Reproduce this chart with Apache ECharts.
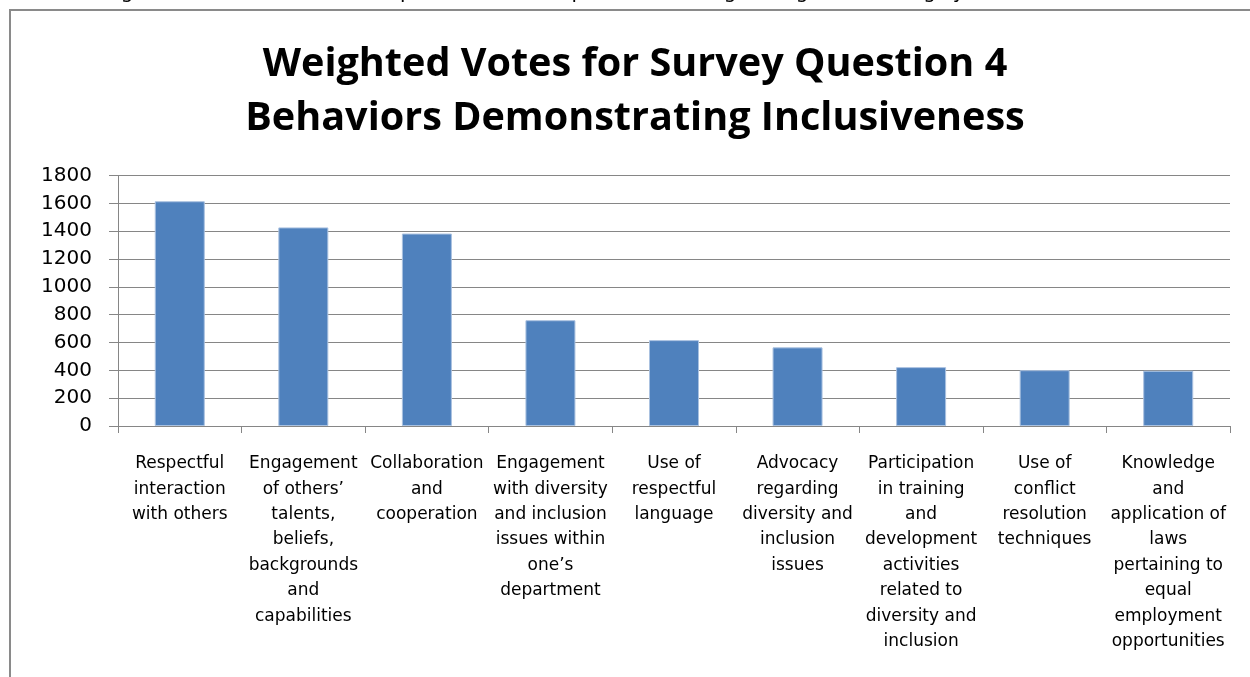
<!DOCTYPE html>
<html><head><meta charset="utf-8">
<script src="https://cdn.jsdelivr.net/npm/echarts@6/dist/echarts.min.js"></script>
<style>html,body{margin:0;padding:0;background:#fff}#c{width:1250px;height:677px}</style>
</head><body><div id="c"></div>
<script>
const titleLines = ['Weighted Votes for Survey Question 4', 'Behaviors Demonstrating Inclusiveness'];
const introText = 'The following chart and table show complete results for question 4, using a weighted ranking system';
const categories = [
  'Respectful\ninteraction\nwith others',
  'Engagement\nof others\u2019\ntalents,\nbeliefs,\nbackgrounds\nand\ncapabilities',
  'Collaboration\nand\ncooperation',
  'Engagement\nwith diversity\nand inclusion\nissues within\none\u2019s\ndepartment',
  'Use of\nrespectful\nlanguage',
  'Advocacy\nregarding\ndiversity and\ninclusion\nissues',
  'Participation\nin training\nand\ndevelopment\nactivities\nrelated to\ndiversity and\ninclusion',
  'Use of\nconflict\nresolution\ntechniques',
  'Knowledge\nand\napplication of\nlaws\npertaining to\nequal\nemployment\nopportunities'
];
const votes = [1615, 1427, 1383, 760, 617, 565, 423, 401, 397];
const yTicks = {min: 0, max: 1800, interval: 200};

const chart = echarts.init(document.getElementById('c'));
const FONT = 'DejaVu Sans';
chart.setOption({
  animation: false,
  backgroundColor: '#fff',
  graphic: [
    {type: 'rect', shape: {x: 10, y: 10, width: 1260, height: 700},
     style: {fill: 'none', stroke: '#8a8a8a', lineWidth: 2}, silent: true},
    {type: 'text', left: 0, top: -17,
     style: {text: introText, font: '20px "DejaVu Sans"', fill: '#000'}, silent: true},
    {type: 'text', x: 635, y: 38,
     style: {text: titleLines.join('\n'), align: 'center', verticalAlign: 'top',
             font: 'bold 39.6px "Open Sans"', lineHeight: 54, fill: '#000'}, silent: true}
  ],
  grid: {left: 118, right: 20, top: 175.5, bottom: 251, containLabel: false},
  xAxis: {
    type: 'category', data: categories,
    axisLine: {lineStyle: {color: '#868686', width: 1}},
    axisTick: {show: true, length: 7, alignWithLabel: false, lineStyle: {color: '#868686'}},
    axisLabel: {interval: 0, margin: 25, fontFamily: FONT, fontSize: 17, lineHeight: 25.4, color: '#000', align: 'center'}
  },
  yAxis: {
    type: 'value', min: yTicks.min, max: yTicks.max, interval: yTicks.interval,
    axisLine: {show: true, lineStyle: {color: '#868686'}},
    axisTick: {show: true, length: 9, lineStyle: {color: '#868686'}},
    axisLabel: {margin: 26, fontFamily: FONT, fontSize: 20, color: '#000', formatter: v => String(v)},
    splitLine: {lineStyle: {color: '#868686', width: 1}}
  },
  series: [{
    type: 'bar', data: votes, barWidth: 50,
    itemStyle: {color: '#4f81bd', borderColor: '#a9c1e0', borderWidth: 1}
  }]
});
</script></body></html>
